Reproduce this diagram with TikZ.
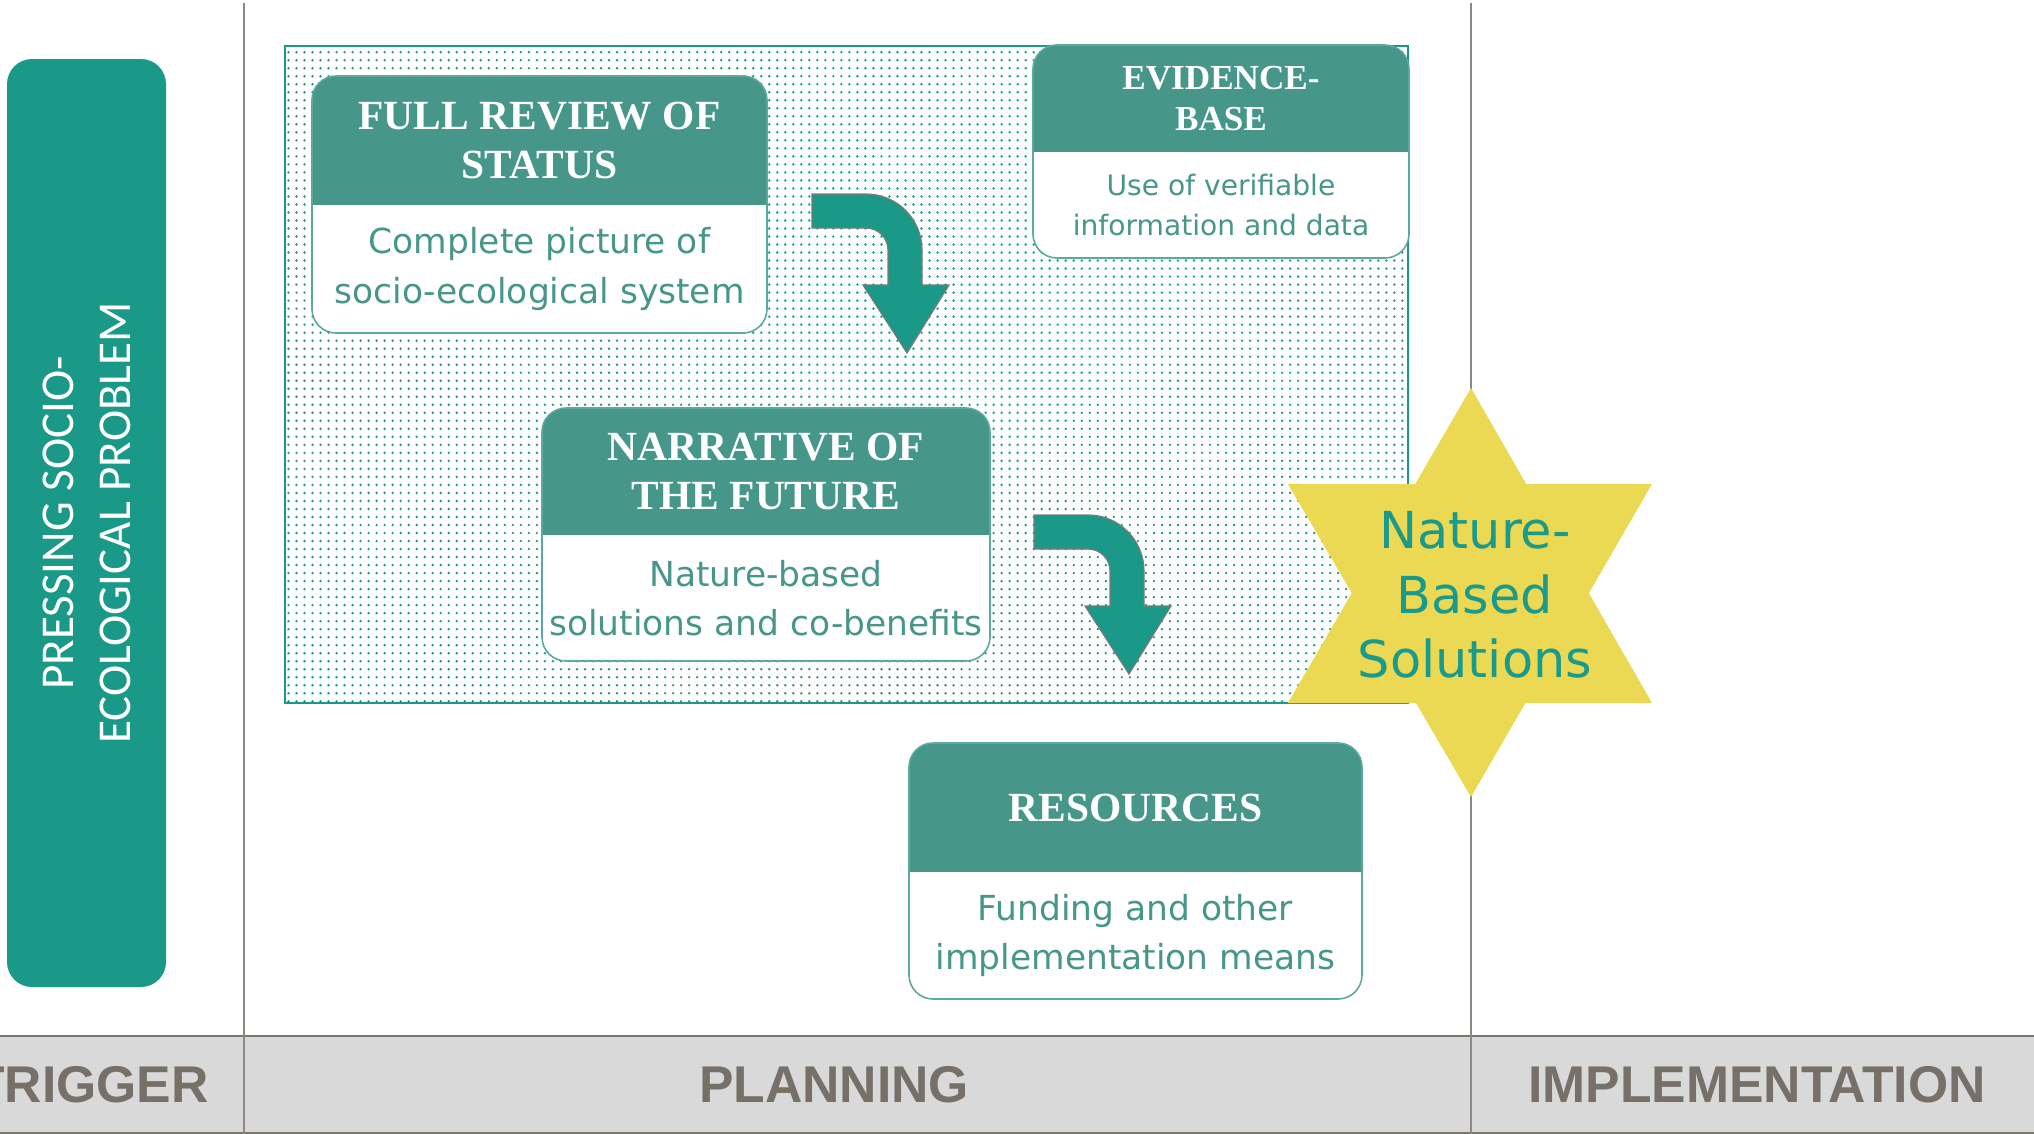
\documentclass[tikz,border=0pt]{standalone}
\usepackage{fontspec}
\usetikzlibrary{positioning,backgrounds,patterns.meta}

\newfontfamily\headfont{Liberation Serif}
\newfontfamily\bodyfont{DejaVu Sans}
\newfontfamily\bandfont{Liberation Sans}
\newfontfamily\sidefont{Carlito}

\definecolor{headteal}{HTML}{46968A}
\definecolor{lineteal}{HTML}{5CA99D}
\definecolor{dotteal}{HTML}{1A9988}
\definecolor{probteal}{HTML}{1A9988}
\definecolor{arrowgray}{HTML}{7A7A7A}
\definecolor{staryellow}{HTML}{EBD853}
\definecolor{startext}{HTML}{1A9A8A}
\definecolor{bandgray}{HTML}{D9D9D9}
\definecolor{bandline}{HTML}{7B7670}
\definecolor{phasetext}{HTML}{767068}
\definecolor{divgray}{HTML}{8C8884}

% bent block arrow, #1 = top left of its tail
\newcommand{\bentarrow}[1]{%
  \draw[turnarrow, shift={#1}] (0,0) -- (0.54,0) arc[start angle=90, end angle=0, radius=0.56]
    -- (1.10,-0.91) -- (1.37,-0.91) -- (0.95,-1.59) -- (0.51,-0.91) -- (0.76,-0.91) -- (0.76,-0.56)
    arc[start angle=0, end angle=90, radius=0.22] -- (0,-0.34) -- cycle;}

\begin{document}
\begin{tikzpicture}[
    stagehead/.style={anchor=north west, inner sep=0pt, outer sep=0pt, align=center, text=white, font=\headfont\bfseries\fontsize{11.8}{14.2}\selectfont},
    stagebody/.style={inner sep=0pt, outer sep=0pt, align=center, text=headteal, font=\bodyfont\fontsize{9.8}{14}\selectfont},
    boxline/.style={draw=lineteal, line width=0.45pt, rounded corners=0.24cm},
    turnarrow/.style={fill=dotteal, draw=arrowgray, line width=0.35pt},
    problem/.style={rotate=90, minimum width=9.28cm, minimum height=1.59cm, inner sep=0pt, fill=probteal, rounded corners=0.25cm, text=white, align=center, font=\sidefont\fontsize{13.4}{16.2}\selectfont},
    phase/.style={text=phasetext, font=\bandfont\bfseries\fontsize{14.7}{17}\selectfont},
    divider/.style={draw=divgray, line width=0.45pt}
]
\useasboundingbox (0,0) rectangle (20.34,-11.34);

% stage boxes
\node[stagehead, minimum width=4.55cm, minimum height=1.29cm] (review) at (3.12,-0.76) {FULL REVIEW OF\\STATUS};
\node[stagebody, minimum width=4.55cm, minimum height=1.28cm, below=0pt of review] (review-txt) {Complete picture of\\socio-ecological system};

\node[stagehead, minimum width=3.76cm, minimum height=1.07cm, font=\headfont\bfseries\fontsize{10}{11.4}\selectfont] (evidence) at (10.33,-0.45) {EVIDENCE-\\BASE};
\node[stagebody, minimum width=3.76cm, minimum height=1.06cm, below=0pt of evidence, font=\bodyfont\fontsize{8}{11.4}\selectfont] (evidence-txt) {Use of verifiable\\information and data};

\node[stagehead, minimum width=4.48cm, minimum height=1.27cm] (narrative) at (5.42,-4.08) {NARRATIVE OF\\THE FUTURE};
\node[stagebody, minimum width=4.48cm, minimum height=1.26cm, below=0pt of narrative] (narrative-txt) {Nature-based\\solutions and co-benefits};

\node[stagehead, minimum width=4.53cm, minimum height=1.29cm] (resources) at (9.09,-7.43) {RESOURCES};
\node[stagebody, minimum width=4.53cm, minimum height=1.27cm, below=0pt of resources] (resources-txt) {Funding and other\\implementation means};

\begin{pgfonlayer}{background}
  \fill[white] (0,0) rectangle (20.34,-11.34);
  \fill[pattern={Dots[distance=2.28pt, radius=0.38pt]}, pattern color=dotteal] (2.85,-0.46) rectangle (14.08,-7.03);
  \draw[dotteal, line width=0.45pt] (2.85,-0.46) rectangle (14.08,-7.03);
  \foreach \b in {review,evidence,narrative,resources} {
    \begin{scope}
      \clip[rounded corners=0.24cm] (\b.north west) rectangle (\b-txt.south east);
      \fill[headteal] (\b.north west) rectangle (\b.south east);
      \fill[white] (\b-txt.north west) rectangle (\b-txt.south east);
    \end{scope}
  }
\end{pgfonlayer}
\foreach \b in {review,evidence,narrative,resources}
  \draw[boxline] (\b.north west) rectangle (\b-txt.south east);

% arrows between the stages
\bentarrow{(8.12,-1.94)}
\bentarrow{(10.34,-5.15)}

% trigger
\node[problem] (problem) at (0.865,-5.23) {PRESSING SOCIO-\\ECOLOGICAL PROBLEM};

% phase band
\fill[bandgray] (0,-10.36) rectangle (20.34,-11.34);
\draw[bandline, line width=0.6pt] (0,-10.36) -- (20.34,-10.36);
\draw[bandline, line width=0.6pt] (0,-11.33) -- (20.34,-11.33);
\draw[divider] (2.44,-0.03) -- (2.44,-11.34);
\draw[divider] (14.71,-0.03) -- (14.71,-11.34);
\node[phase, anchor=east] (trigger) at (2.21,-10.85) {TRIGGER};
\node[phase] (planning) at (8.34,-10.85) {PLANNING};
\node[phase] (implementation) at (17.57,-10.85) {IMPLEMENTATION};

% star
\fill[staryellow] (14.71,-3.88) -- (12.88,-7.03) -- (16.52,-7.03) -- cycle;
\fill[staryellow] (14.71,-7.97) -- (12.88,-4.84) -- (16.52,-4.84) -- cycle;
\node[text=startext, align=center, font=\bodyfont\fontsize{14.5}{18.4}\selectfont] (nbs) at (14.75,-5.95) {Nature-\\Based\\Solutions};
\end{tikzpicture}
\end{document}
